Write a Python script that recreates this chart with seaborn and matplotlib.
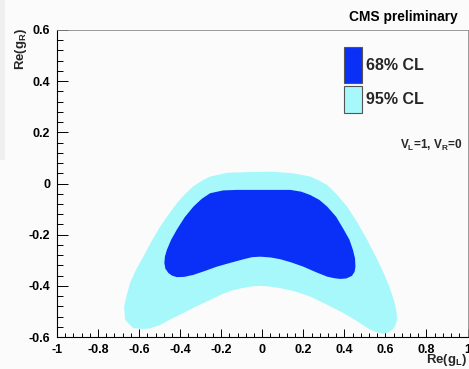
import numpy as np
import matplotlib
matplotlib.use("Agg")
import matplotlib.pyplot as plt
import seaborn as sns
from matplotlib.patches import Rectangle
from matplotlib.ticker import MultipleLocator

# ---- data ----
cl95_x = [-0.58, -0.629, -0.668, -0.673, -0.660, -0.644, -0.615, -0.579, -0.540, -0.498, -0.456,
          -0.416, -0.377, -0.337, -0.296, -0.254, -0.17, -0.05, 0.05, 0.15, 0.234, 0.276,
          0.316, 0.366, 0.413, 0.463, 0.511, 0.553, 0.592, 0.620, 0.641, 0.653, 0.657, 0.648,
          0.633, 0.612, 0.592, 0.560, 0.527, 0.465, 0.397, 0.316, 0.234, 0.160, 0.088, 0.040,
          -0.01, -0.059, -0.105, -0.156, -0.205, -0.254, -0.32, -0.385, -0.445, -0.498, -0.545]
cl95_y = [-0.569, -0.565, -0.533, -0.481, -0.435, -0.389, -0.337, -0.286, -0.227, -0.169, -0.121,
          -0.077, -0.042, -0.012, 0.010, 0.027, 0.042, 0.045, 0.046, 0.040, 0.027, 0.012,
          -0.006, -0.045, -0.090, -0.152, -0.220, -0.285, -0.351, -0.405, -0.455, -0.495, -0.533, -0.556,
          -0.572, -0.583, -0.588, -0.582, -0.572, -0.540, -0.507, -0.474, -0.442, -0.422, -0.409, -0.403,
          -0.400, -0.403, -0.410, -0.420, -0.436, -0.455, -0.480, -0.506, -0.530, -0.553, -0.566]

cl68_x = [-0.12, 0.0, 0.137, 0.190, 0.234, 0.278, 0.316, 0.360, 0.397, 0.425, 0.442, 0.452,
          0.454, 0.450, 0.437, 0.410, 0.38, 0.350, 0.316, 0.260, 0.20, 0.140, 0.088, 0.040,
          -0.01, -0.050, -0.091, -0.155, -0.221, -0.280, -0.335, -0.380, -0.416, -0.440, -0.457,
          -0.472, -0.477, -0.474, -0.465, -0.444, -0.416, -0.378, -0.335, -0.295, -0.254, -0.190]
cl68_y = [-0.025, -0.025, -0.025, -0.032, -0.045, -0.064, -0.090, -0.130, -0.180, -0.220, -0.260, -0.293,
          -0.325, -0.345, -0.361, -0.371, -0.373, -0.370, -0.364, -0.346, -0.325, -0.308, -0.296, -0.289,
          -0.286, -0.288, -0.296, -0.310, -0.325, -0.342, -0.357, -0.365, -0.366, -0.360, -0.350,
          -0.333, -0.310, -0.285, -0.260, -0.220, -0.180, -0.132, -0.090, -0.060, -0.038, -0.027]

legend_labels = ["68% CL", "95% CL"]
x_ticks = [-1, -0.8, -0.6, -0.4, -0.2, 0, 0.2, 0.4, 0.6, 0.8, 1]
y_ticks = [-0.6, -0.4, -0.2, 0, 0.2, 0.4, 0.6]

# ---- style ----
sns.set_theme(style="ticks")
plt.rcParams['font.family'] = ['Liberation Sans', 'DejaVu Sans']
plt.rcParams['font.weight'] = 'bold'
plt.rcParams['axes.unicode_minus'] = False
plt.rcParams['mathtext.fontset'] = 'custom'
plt.rcParams['mathtext.rm'] = 'Liberation Sans:bold'
plt.rcParams['mathtext.it'] = 'Liberation Sans:bold'
plt.rcParams['mathtext.bf'] = 'Liberation Sans:bold'

BLUE = "#0a30f8"
CYAN = "#a6f8fb"
BG = "#fbfbfb"

W, H = 469, 369
fig = plt.figure(figsize=(W / 100, H / 100), dpi=100, facecolor=BG)
ax = fig.add_axes([57 / W, 1 - 337 / H, (467.5 - 57) / W, (337 - 30) / H])
ax.set_facecolor(BG)

# strip at left edge
fig.patches.append(Rectangle((0, 1 - 160 / H), 5 / W, 160 / H, transform=fig.transFigure,
                             facecolor="#efefef", edgecolor="none", zorder=0))

ax.fill(cl95_x, cl95_y, color=CYAN, lw=0, zorder=2)
ax.fill(cl68_x, cl68_y, color=BLUE, lw=0, zorder=3)

ax.set_xlim(-1, 1)
ax.set_ylim(-0.6, 0.6)
ax.set_xticks(x_ticks)
ax.set_yticks(y_ticks)
ax.set_xticklabels([f"{v:g}" for v in x_ticks])
ax.set_yticklabels([f"{v:g}" for v in y_ticks])
ax.xaxis.set_minor_locator(MultipleLocator(0.04))
ax.yaxis.set_minor_locator(MultipleLocator(0.04))
ax.tick_params(axis='x', which='major', direction='in', length=5.5, width=0.7, color='black',
               labelsize=9, pad=5, top=False)
ax.tick_params(axis='x', which='minor', direction='in', length=3, width=0.7, color='black', top=False)
ax.tick_params(axis='y', which='major', direction='in', length=8, width=0.7, color='black',
               labelsize=9, pad=5, right=False)
ax.tick_params(axis='y', which='minor', direction='in', length=4.5, width=0.7, color='black', right=False)
for lab in ax.get_xticklabels() + ax.get_yticklabels():
    lab.set_fontweight('bold')
    lab.set_color('black')

for s in ['left', 'bottom']:
    ax.spines[s].set_color('black')
    ax.spines[s].set_linewidth(0.8)
for s in ['top', 'right']:
    ax.spines[s].set_color('#8a8a8a')
    ax.spines[s].set_linewidth(0.6)

# texts
fig.text(458 / W, 1 - 17 / H, "CMS preliminary", ha='right', va='center', fontsize=9.9,
         fontweight='bold', color='black')
fig.text(21 / W, 1 - 28 / H, "Re(g$_{R}$)", rotation=90, ha='center', va='top',
         fontsize=9.5, fontweight='bold')
fig.text(467 / W, 1 - 360 / H, "Re(g$_{L}$)", ha='right', va='center', fontsize=9.5,
         fontweight='bold')
fig.text(462 / W, 1 - 145 / H, "V$_{L}$=1, V$_{R}$=0", ha='right', va='center', fontsize=8.5,
         fontweight='bold')

# legend boxes
boxes = [(47, 83, BLUE), (86, 113, CYAN)]
for (top, bot, col), lab in zip(boxes, legend_labels):
    fig.patches.append(Rectangle((344 / W, 1 - bot / H), 18 / W, (bot - top) / H,
                                 transform=fig.transFigure, facecolor=col,
                                 edgecolor='#555555', lw=0.8, zorder=5))
    fig.text(366 / W, 1 - (top + bot) / 2 / H, lab, ha='left', va='center', fontsize=11.5,
             fontweight='bold', zorder=6)

fig.savefig("out.png", dpi=100, facecolor=BG)
